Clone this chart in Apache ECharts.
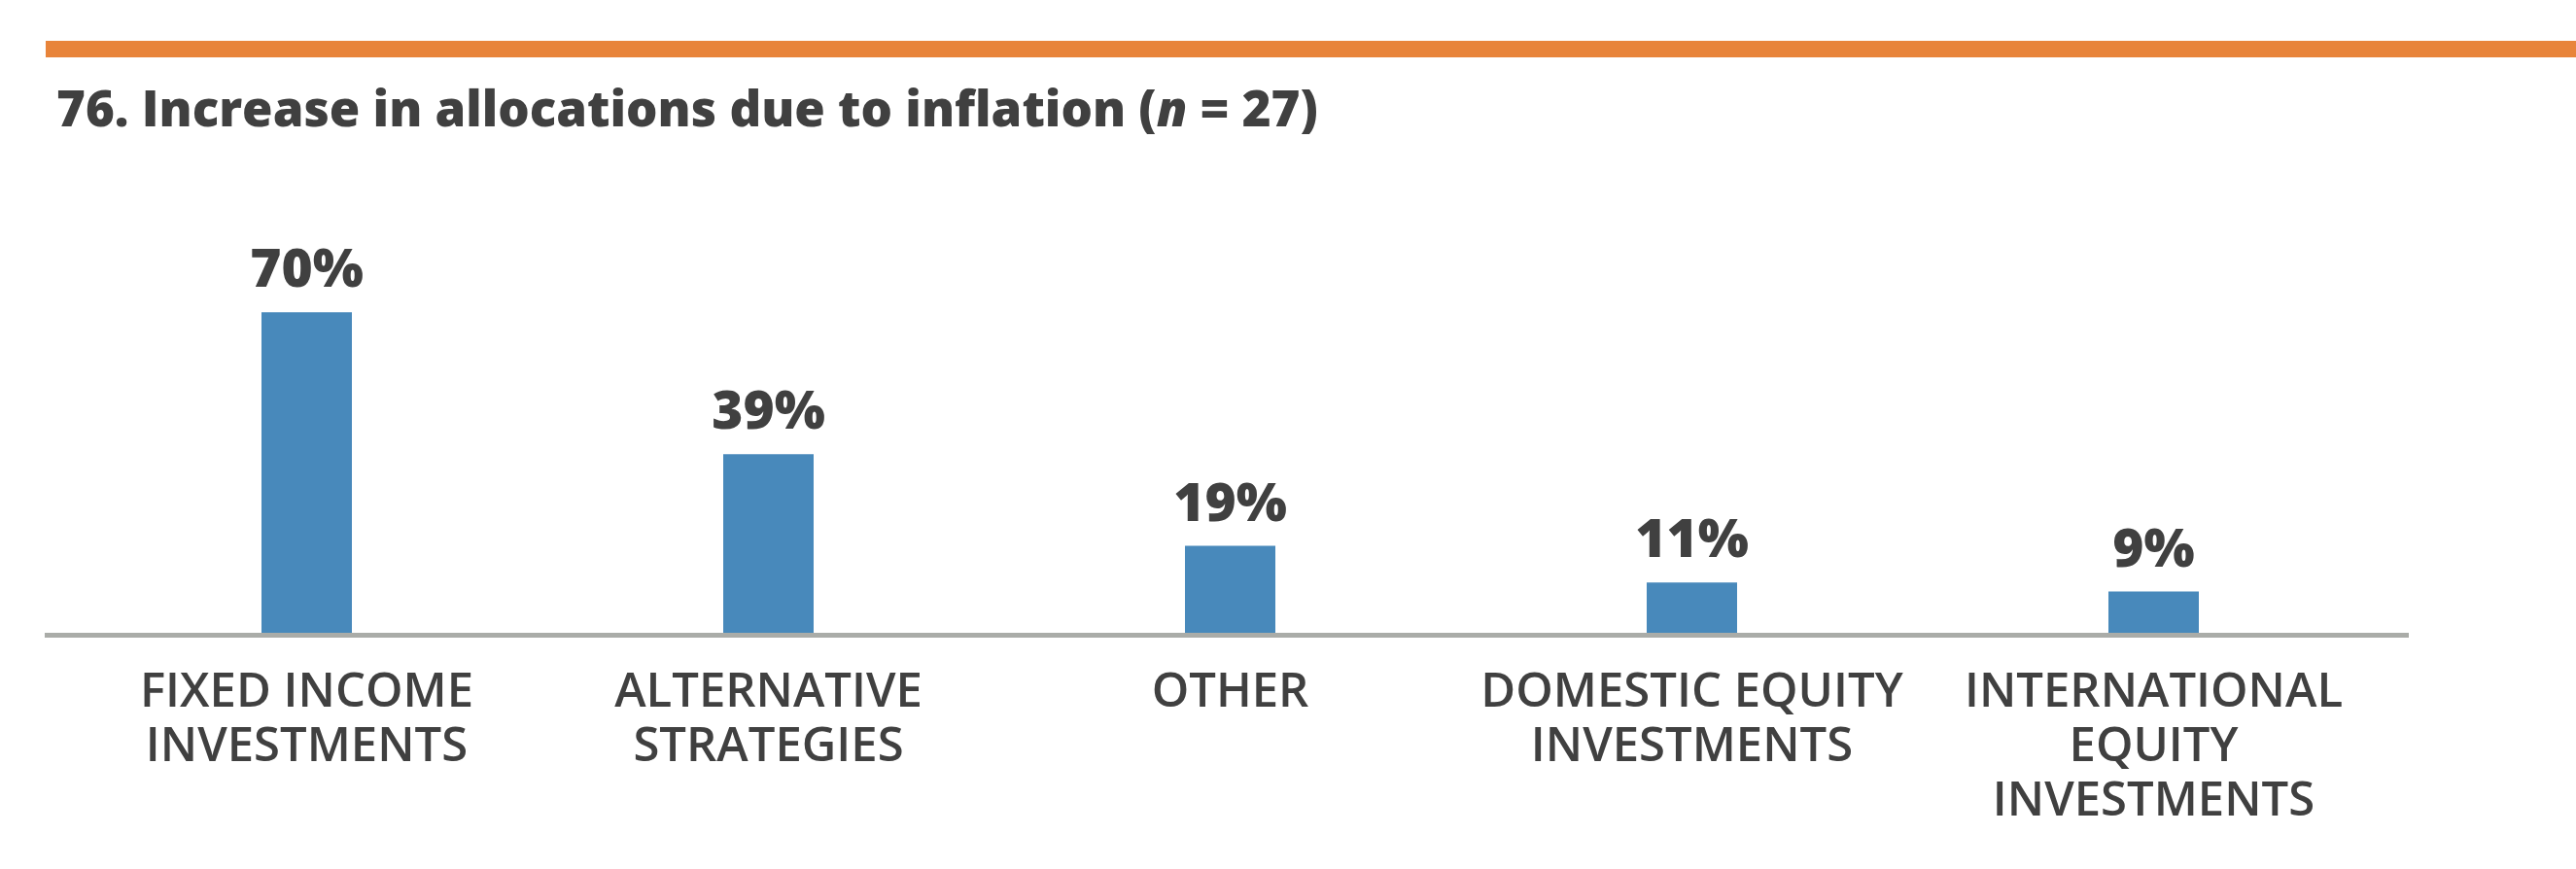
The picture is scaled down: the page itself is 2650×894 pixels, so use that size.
<!DOCTYPE html>
<html>
<head>
<meta charset="utf-8">
<script src="https://cdn.jsdelivr.net/npm/echarts@6/dist/echarts.min.js"></script>
<style>
html,body{margin:0;padding:0;background:#fff;}
#chart{width:2650px;height:894px;}
</style>
</head>
<body>
<div id="chart"></div>
<script>
const categories = [
  'FIXED INCOME\nINVESTMENTS',
  'ALTERNATIVE\nSTRATEGIES',
  'OTHER',
  'DOMESTIC EQUITY\nINVESTMENTS',
  'INTERNATIONAL\nEQUITY\nINVESTMENTS'
];
const values = [70, 39, 19, 11, 9];

const FONT = '"Open Sans", "Noto Sans", sans-serif';
const chart = echarts.init(document.getElementById('chart'), null, {renderer: 'canvas'});
chart.setOption({
  backgroundColor: '#ffffff',
  animation: false,
  title: {
    text: '{b|76. Increase in allocations due to inflation (}{i|n}{b| = 27)}',
    left: 53,
    top: 85,
    textStyle: {
      rich: {
        b: {fontFamily: FONT, fontWeight: 800, fontSize: 51, color: '#404040'},
        i: {fontFamily: FONT, fontWeight: 800, fontStyle: 'italic', fontSize: 51, color: '#404040'}
      }
    }
  },
  graphic: [
    {type: 'rect', shape: {x: 47, y: 42, width: 2603, height: 17}, style: {fill: '#E8843A'}, silent: true},
    {type: 'rect', shape: {x: 46, y: 651, width: 2432, height: 5}, style: {fill: '#aaaca8'}, silent: true, z: 10}
  ],
  grid: {left: 78, right: 197, top: 180, bottom: 243, containLabel: false},
  xAxis: {
    type: 'category',
    data: categories,
    axisLine: {show: false},
    axisTick: {show: false},
    axisLabel: {
      interval: 0,
      margin: 34,
      fontFamily: FONT,
      fontWeight: 600,
      fontSize: 49,
      lineHeight: 56,
      color: '#404040',
      align: 'center'
    }
  },
  yAxis: {
    type: 'value',
    min: 0,
    max: 100,
    show: false,
    splitLine: {show: false}
  },
  series: [{
    type: 'bar',
    data: values,
    barWidth: 93,
    itemStyle: {color: '#4889BB'},
    label: {
      show: true,
      position: 'top',
      distance: 14,
      formatter: '{c}%',
      fontFamily: FONT,
      fontWeight: 800,
      fontSize: 55,
      color: '#404040'
    }
  }]
});
</script>
</body>
</html>
